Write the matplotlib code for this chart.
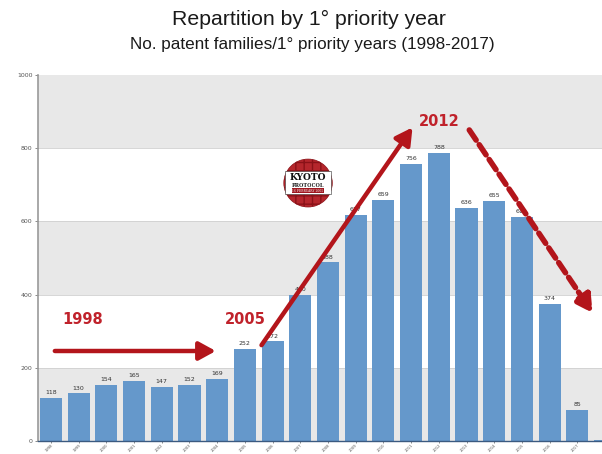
import matplotlib.pyplot as plt
from matplotlib.patches import Ellipse, Rectangle

# patent families per first priority year
years = [str(y) for y in range(1998, 2019)]
families = [118, 130, 154, 165, 147, 152, 169, 252, 272, 400, 488,
            617, 659, 756, 788, 636, 655, 612, 374, 85, 3]
shown_labels = [True] * 20 + [False]

bar_color = "#6598cb"
red = "#c0222b"
dark_red = "#b3151b"

fig = plt.figure(figsize=(6.02, 4.54), dpi=100)
fig.patch.set_facecolor("white")

fig.text(0.514, 0.958, "Repartition by 1° priority year", ha="center", va="center",
         fontsize=15.3, family="Liberation Sans", color="#1a1a1a")
fig.text(0.518, 0.901, "No. patent families/1° priority years (1998-2017)", ha="center",
         va="center", fontsize=12.3, family="Liberation Sans", color="#1a1a1a")

ax = fig.add_axes([0.063, 0.0286, 0.937, 0.806])
x = list(range(len(years)))

# alternating grey bands
for lo in (0, 400, 800):
    ax.axhspan(lo, lo + 200, color="#e8e8e8", zorder=0, lw=0)
for lo in (200, 400, 600, 800):
    ax.axhline(lo, color="#d0d0d0", lw=0.6, zorder=0.5)

bars = ax.bar(x, families, width=0.8, color=bar_color, zorder=2)
for i, (v, show) in enumerate(zip(families, shown_labels)):
    if show:
        ax.text(i, v + 8, str(v), ha="center", va="bottom", fontsize=4.5,
                color="#333333", zorder=3)

ax.set_xlim(-0.47, 19.89)
ax.set_ylim(0, 1000)
ax.set_yticks([0, 200, 400, 600, 800, 1000])
ax.set_yticklabels(["0", "200", "400", "600", "800", "1000"], fontsize=4.5, color="#555555")
ax.set_xticks(x[:20])
ax.set_xticklabels(years[:20], rotation=45, fontsize=2.7, color="#555555", ha="right",
                   rotation_mode="anchor")
ax.tick_params(axis="both", length=2, width=0.6, color="#777777", pad=2)
ax.tick_params(axis="x", length=1.2, pad=0.6)
for side in ("top", "right"):
    ax.spines[side].set_visible(False)
ax.spines["left"].set_color("#999999")
ax.spines["left"].set_linewidth(1.2)
ax.spines["bottom"].set_color("#3b5a80")
ax.spines["bottom"].set_linewidth(1.0)

# trend annotations
txt = dict(color=red, fontsize=10.5, fontweight="bold", ha="center", va="center", zorder=6)
ax.text(1.16, 331, "1998", **txt)
ax.text(7.0, 331, "2005", **txt)
ax.text(14.0, 872, "2012", **txt)

solid = dict(arrowstyle="-|>,head_length=1.0,head_width=0.55", color=dark_red, lw=3.2,
             shrinkA=0, shrinkB=0)
ax.annotate("", xy=(5.95, 246), xytext=(0.14, 246), arrowprops=solid, zorder=5)
ax.annotate("", xy=(13.05, 857), xytext=(7.6, 262), arrowprops=solid, zorder=5)
dashed = dict(arrowstyle="-|>,head_length=1.0,head_width=0.55", color=dark_red, lw=4,
              linestyle=(0, (2.2, 1.0)), shrinkA=0, shrinkB=0)
ax.annotate("", xy=(19.55, 350), xytext=(15.1, 850), arrowprops=dashed, zorder=5)

# Kyoto protocol badge
cx, cy = 9.28, 705
ax.add_patch(Ellipse((cx, cy), 1.75, 131, facecolor="#b5262c", edgecolor="#8a1218",
                     hatch="++", lw=0.5, zorder=4))
ax.add_patch(Rectangle((cx - 0.82, cy - 30), 1.64, 62, facecolor="white",
                       edgecolor="#333333", lw=0.4, zorder=4.5))
ax.text(cx, cy + 14, "KYOTO", ha="center", va="center", fontsize=6.5, fontweight="bold",
        family="DejaVu Serif", color="#111111", zorder=5)
ax.text(cx, cy - 6, "PROTOCOL", ha="center", va="center", fontsize=3.6, fontweight="bold",
        family="DejaVu Serif", color="#222222", zorder=5)
ax.text(cx, cy - 21, "16 FEBRUARY 2005", ha="center", va="center", fontsize=2.2,
        family="DejaVu Serif", color="white", zorder=5,
        bbox=dict(facecolor="#a01820", edgecolor="none", pad=0.5))

fig.savefig("out.png", dpi=100)
